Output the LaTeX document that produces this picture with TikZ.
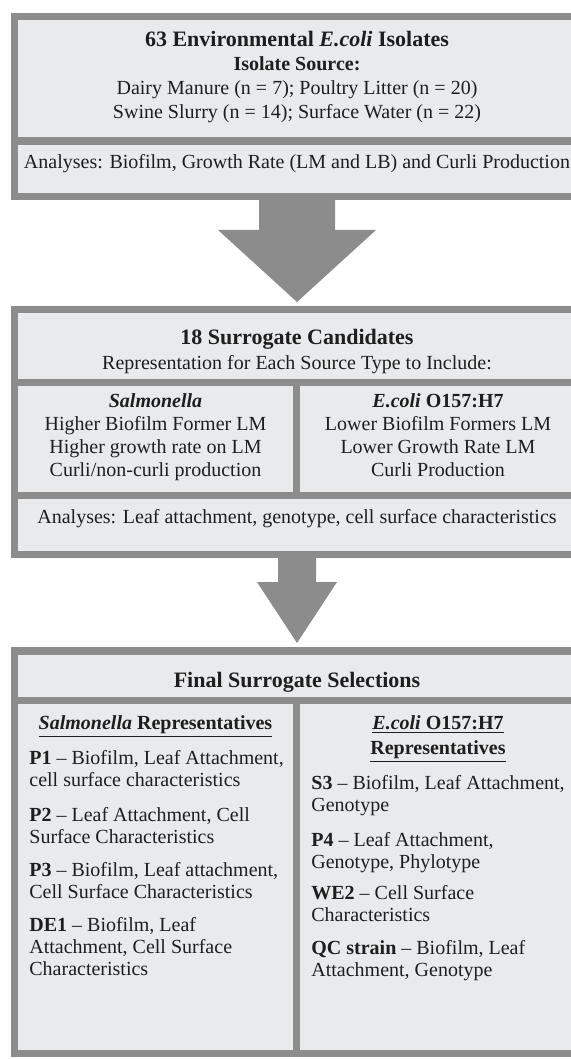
\documentclass[tikz,border=0pt]{standalone}
\usepackage{fontspec}
\setmainfont{Liberation Serif}
\usetikzlibrary{positioning, calc}
\definecolor{bandgray}{RGB}{140,140,140}
\definecolor{cellgray}{RGB}{233,234,236}
\definecolor{inkgray}{RGB}{30,30,30}
\tikzset{
	band/.style={fill=bandgray},
	cell/.style={fill=cellgray},
	blockarrow/.style={fill=bandgray},
	txt/.style={inner sep=0pt, text=inkgray, font=\fontsize{10}{11}\selectfont},
	headline/.style={txt, anchor=base, font=\fontsize{11}{13}\selectfont\bfseries},
	para/.style={txt, anchor=base west, align=left},
	colhead/.style={txt, anchor=base, align=center, font=\fontsize{10}{11.5}\selectfont}
}

\begin{document}
\begin{tikzpicture}[x=0.5pt, y=-0.5pt]
			\useasboundingbox (0,0) rectangle (571,1059);
			
			% box 1
			\fill[band] (11,13) rectangle (583,200);
			\fill[cell] (18,20) rectangle (576,137);
			\fill[cell] (18,145) rectangle (576,193);
			\coordinate (B1) at (297,200);
			
			% multi-line nodes sit on the baseline of their last line
			\node[headline] (T1) at (297,47) {63 Environmental \textit{E.coli} Isolates};
			\node[colhead, font=\fontsize{10}{12}\selectfont] (SRC) at (297,119)
				{\textbf{Isolate Source:}\\Dairy Manure (n = 7); Poultry Litter (n = 20)\\Swine Slurry (n = 14); Surface Water (n = 22)};
			\node[txt, anchor=base] (AN1) at (297,169) {Analyses: Biofilm, Growth Rate (LM and LB) and Curli Production};
			
			% box 2
			\fill[band] (11,306) rectangle (583,558);
			\fill[cell] (18,313) rectangle (576,379);
			\fill[cell] (18,386) rectangle (293,492);
			\fill[cell] (300,386) rectangle (576,492);
			\fill[cell] (18,499) rectangle (576,551);
			\coordinate (B2) at (297,306);
			\coordinate (B2S) at (297,558);
			
			\node[headline] (T2) at (297,344) {18 Surrogate Candidates};
			\node[txt, anchor=base] (REP) at (297,369) {Representation for Each Source Type to Include:};
			\node[colhead] (SAL) at (155.5,476)
				{\textbf{\textit{Salmonella}}\\Higher Biofilm Former LM\\Higher growth rate on LM\\Curli/non-curli production};
			\node[colhead] (ECO) at (438,476)
				{\textbf{\textit{E.coli} O157:H7}\\Lower Biofilm Formers LM\\Lower Growth Rate LM\\Curli Production};
			\node[txt, anchor=base] (AN2) at (297,523) {Analyses: Leaf attachment, genotype, cell surface characteristics};
			
			% box 3
			\fill[band] (11,647) rectangle (583,1057);
			\fill[cell] (18,655) rectangle (576,697);
			\fill[cell] (18,704) rectangle (293,1050);
			\fill[cell] (300,704) rectangle (576,1050);
			\coordinate (B3) at (297,647);
			
			\node[headline] (T3) at (297,687) {Final Surrogate Selections};
			\node[colhead] (SALR) at (155.5,729) {\underline{\textbf{\textit{Salmonella} Representatives}}};
			\node[colhead, font=\fontsize{10}{12.5}\selectfont] (ECOR) at (438,754)
				{\underline{\textbf{\textit{E.coli} O157:H7}}\\\underline{\textbf{Representatives}}};
			
			\node[para] (P1) at (29,786) {\textbf{P1} -- Biofilm, Leaf Attachment,\\cell surface characteristics};
			\node[para] (P2) at (29,843) {\textbf{P2} -- Leaf Attachment, Cell\\Surface Characteristics};
			\node[para] (P3) at (29,898) {\textbf{P3} -- Biofilm, Leaf attachment,\\Cell Surface Characteristics};
			\node[para] (DE1) at (29,975) {\textbf{DE1} -- Biofilm, Leaf\\Attachment, Cell Surface\\Characteristics};
			
			\node[para] (S3) at (311,811) {\textbf{S3} -- Biofilm, Leaf Attachment,\\Genotype};
			\node[para] (P4) at (311,868) {\textbf{P4} -- Leaf Attachment,\\Genotype, Phylotype};
			\node[para] (WE2) at (311,921) {\textbf{WE2} -- Cell Surface\\Characteristics};
			\node[para] (QC) at (311,976) {\textbf{QC strain} -- Biofilm, Leaf\\Attachment, Genotype};
			
			% block arrows
			\fill[blockarrow] ($(B1)+(-38,0)$) -- ($(B1)+(38,0)$) -- ($(B1)+(38,30)$) -- ($(B1)+(79,30)$)
				-- ($(B2)+(0,-4)$) -- ($(B1)+(-79,30)$) -- ($(B1)+(-38,30)$) -- cycle;
			\fill[blockarrow] ($(B2S)+(-19,0)$) -- ($(B2S)+(19,0)$) -- ($(B2S)+(19,24)$) -- ($(B2S)+(40,24)$)
				-- ($(B3)+(0,-4)$) -- ($(B2S)+(-40,24)$) -- ($(B2S)+(-19,24)$) -- cycle;
		\end{tikzpicture}
\end{document}
